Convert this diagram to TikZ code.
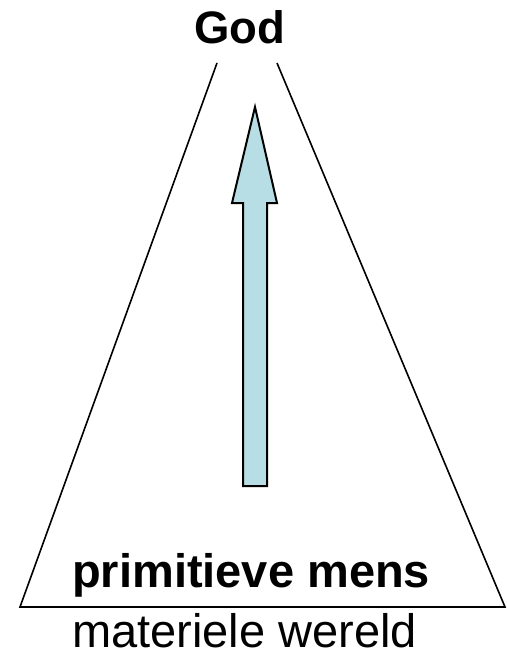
\documentclass[tikz,border=0pt]{standalone}
\usepackage{fontspec}
\setmainfont{Liberation Sans}
\usepackage{tikz}
\definecolor{arrowblue}{RGB}{183,222,228}

\begin{document}
\begin{tikzpicture}[x=1pt, y=-1pt, line join=miter]
  \tikzset{label/.style={inner sep=0pt, anchor=base west}}
  \useasboundingbox (0,0) rectangle (506,650);
  % Open triangle (apex left free for the top label)
  \coordinate (topL) at (217,63);
  \coordinate (topR) at (277,63);
  \coordinate (baseL) at (20,607);
  \coordinate (baseR) at (505,607);
  \draw[line width=1.6pt] (topL) -- (baseL) -- (baseR) -- (topR);
  % Upward arrow
  \draw[line width=2pt, fill=arrowblue]
    (243,486) -- (243,203) -- (232,203) -- (255,107)
    -- (277,203) -- (267,203) -- (267,486) -- cycle;
  % Labels
  \node[label, font=\bfseries\fontsize{45.5}{54}\selectfont] (god) at (194,44) {God};
  \node[label, font=\bfseries\fontsize{47}{56}\selectfont] (mens) at (72,587) {primitieve mens};
  \node[label, font=\fontsize{47}{56}\selectfont] (wereld) at (72,647) {materiele wereld};
\end{tikzpicture}
\end{document}
